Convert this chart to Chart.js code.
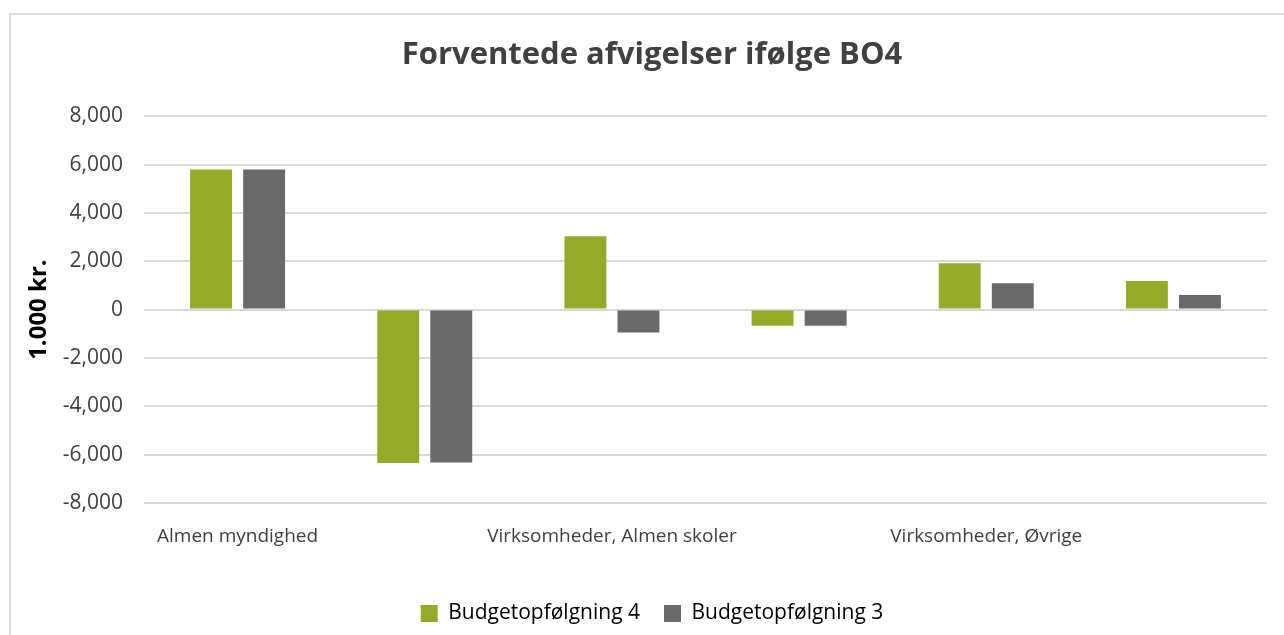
<!DOCTYPE html>
<html>
<head>
<meta charset="utf-8">
<script src="https://cdn.jsdelivr.net/npm/chart.js@4.4.0/dist/chart.umd.min.js"></script>
<style>
  body { margin: 0; background: #fff; overflow: hidden; }
  #frame { position: absolute; left: 9px; top: 13px; width: 1300px; height: 640px;
           border-left: 2px solid #d9d9d9; border-top: 2px solid #d9d9d9; }
  canvas { display: block; }
</style>
</head>
<body>
<div id="frame"><canvas id="chart" width="1300" height="640"></canvas></div>
<script>
// Kategorier (kun hver anden vises på aksen)
const categories = ['Almen myndighed', '', 'Virksomheder, Almen skoler', '', 'Virksomheder, Øvrige', ''];
const bo4Values = [5800, -6350, 3030, -670, 1920, 1180];
const bo3Values = [5800, -6320, -950, -670, 1090, 600];
const yTicks = [-8000, -6000, -4000, -2000, 0, 2000, 4000, 6000, 8000];

const fontFamily = '"Open Sans", Lato, sans-serif';

const ctx = document.getElementById('chart').getContext('2d');
const chart = new Chart(ctx, {
    type: 'bar',
    data: {
        labels: categories,
        datasets: [
            {
                label: 'Budgetopfølgning 4',
                data: bo4Values,
                backgroundColor: '#95aa28',
                borderWidth: 0
            },
            {
                label: 'Budgetopfølgning 3',
                data: bo3Values,
                backgroundColor: '#696969',
                borderWidth: 0
            }
        ]
    },
    options: {
        responsive: false,
        animation: false,
        categoryPercentage: 0.567,
        barPercentage: 0.79,
        layout: { padding: { left: 0, right: 18, top: 10, bottom: 21 } },
        plugins: {
            title: {
                display: true,
                text: 'Forventede afvigelser ifølge BO4',
                color: '#404040',
                font: { family: fontFamily, size: 31, weight: 'bold' },
                padding: { top: 12, bottom: 42 }
            },
            legend: {
                position: 'bottom',
                labels: {
                    boxWidth: 17,
                    boxHeight: 17,
                    padding: 24,
                    color: '#000',
                    font: { family: fontFamily, size: 21 }
                }
            },
            tooltip: { enabled: false }
        },
        scales: {
            x: {
                grid: { display: false, drawTicks: false },
                border: { display: false },
                ticks: {
                    autoSkip: false,
                    maxRotation: 0,
                    padding: 22,
                    color: '#404040',
                    font: { family: fontFamily, size: 19 }
                },
                afterFit: (scale) => { scale.height = 76; }
            },
            y: {
                min: -8000,
                max: 8000,
                afterBuildTicks: (scale) => { scale.ticks = yTicks.map(v => ({ value: v })); },
                grid: { color: '#d9d9d9', lineWidth: 2, drawTicks: false },
                border: { display: false },
                ticks: {
                    padding: 21,
                    color: '#404040',
                    font: { family: fontFamily, size: 21 },
                    callback: (v) => v.toLocaleString('en-US')
                },
                title: {
                    display: true,
                    text: '1.000 kr.',
                    color: '#000',
                    font: { family: fontFamily, size: 24, weight: 'bold' },
                    padding: { top: 14, bottom: 0 }
                },
                afterFit: (scale) => { scale.width = 133; }
            },
            // tom akse i højre side, så plotområdet slutter før rammen
            yRight: {
                position: 'right',
                grid: { display: false, drawTicks: false },
                border: { display: false },
                ticks: { display: false },
                afterFit: (scale) => { scale.width = 26; }
            }
        }
    }
});
</script>
</body>
</html>
